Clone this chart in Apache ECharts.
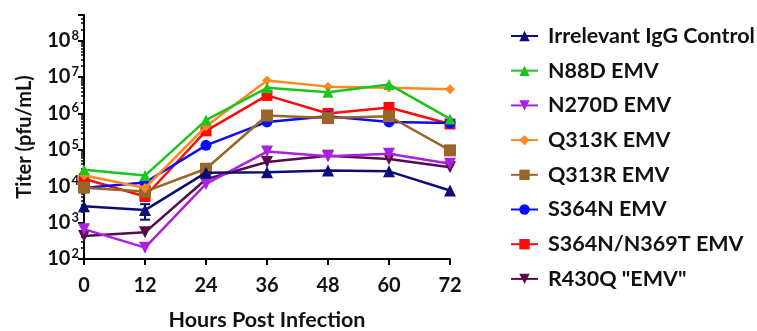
<!DOCTYPE html>
<html><head><meta charset="utf-8">
<script src="https://cdn.jsdelivr.net/npm/echarts@6/dist/echarts.min.js"></script>
<style>html,body{margin:0;padding:0;background:#fff}#c{width:757px;height:331px}</style>
</head><body><div id="c"></div>
<script>
const hours = [0, 12, 24, 36, 48, 60, 72];
const seriesNames = ['Irrelevant IgG Control','N88D EMV','N270D EMV','Q313K EMV','Q313R EMV','S364N EMV','S364N/N369T EMV','R430Q "EMV"'];
const igg    = [2800, 2200, 23500, 24000, 27000, 25500, 7600];
const n88d   = [28000, 19500, 650000, 5000000, 3800000, 6200000, 700000];
const n270d  = [660, 205, 11500, 89000, 66000, 78000, 41000];
const q313k  = [20000, 8900, 440000, 8000000, 5400000, 5000000, 4600000];
const q313r  = [9100, 7100, 30000, 870000, 740000, 830000, 96000];
const s364n  = [8900, 12600, 132000, 580000, 830000, 580000, 540000];
const s364nT = [16000, 5200, 330000, 3100000, 990000, 1450000, 510000];
const r430q  = [430, 540, 15500, 46000, 68000, 56000, 33000];
const iggErrLow  = [null, 1200, null, null, null, null, null];
const iggErrHigh = [null, 3200, null, null, null, null, null];
const yTickExps = [2,3,4,5,6,7,8];

const colors = ['#0c0c78','#1cc41c','#aa22e0','#ff8822','#99662a','#0a0aff','#ff0a0a','#560c4c'];
const symbols = ['triangle','triangle','triangle','diamond','rect','circle','rect','triangle'];
const rot = [0,0,180,0,0,0,0,180];
const sizes = [12,11,12,10,12,11,11,12];
const datasets = [igg,n88d,n270d,q313k,q313r,s364n,s364nT,r430q];
const FONT = 'Lato';

const series = datasets.map((d,i)=>({
  name: seriesNames[i], type:'line', data: hours.map((h,j)=>[h,d[j]]),
  symbol: symbols[i], symbolSize: sizes[i], symbolRotate: rot[i],
  lineStyle:{width:2.5, color:colors[i]}, itemStyle:{color:colors[i]},
  z: 10 - i, animation:false
}));
series.push({
  type:'custom', name:'err', animation:false, z: 11,
  data: hours.map((h,j)=>[h, iggErrLow[j], iggErrHigh[j]]).filter(r=>r[1]!=null),
  renderItem:function(params, api){
    const lo = api.coord([api.value(0), api.value(1)]);
    const hi = api.coord([api.value(0), api.value(2)]);
    const w = 5;
    const st = {stroke: colors[0], lineWidth: 2};
    return {type:'group', children:[
      {type:'line', shape:{x1:lo[0],y1:lo[1],x2:hi[0],y2:hi[1]}, style:st},
      {type:'line', shape:{x1:lo[0]-w,y1:lo[1],x2:lo[0]+w,y2:lo[1]}, style:st},
      {type:'line', shape:{x1:hi[0]-w,y1:hi[1],x2:hi[0]+w,y2:hi[1]}, style:st}
    ]};
  }
});

const chart = echarts.init(document.getElementById('c'));
chart.setOption({
  backgroundColor:'#fff',
  textStyle:{fontFamily:FONT},
  grid:{left:84, right:307, top:15, bottom:72, containLabel:false, outerBoundsMode:'none'},
  legend:{
    data: seriesNames, orient:'vertical', left:505, top:20,
    itemWidth:27, itemHeight:13, itemGap:12.7,
    textStyle:{fontFamily:FONT, fontWeight:'bold', fontSize:21.5, lineHeight:21.5, color:'#111', padding:[0,0,0,5]}
  },
  xAxis:{
    type:'value', min:0, max:72, interval:12,
    name:'Hours Post Infection', nameLocation:'middle', nameGap:50,
    nameTextStyle:{fontFamily:FONT, fontWeight:'bold', fontSize:21.5, color:'#111'},
    axisLine:{lineStyle:{color:'#000', width:2}},
    axisTick:{length:6, lineStyle:{color:'#000', width:2}},
    axisLabel:{fontFamily:FONT, fontWeight:'bold', fontSize:20, color:'#111', margin:17},
    splitLine:{show:false}
  },
  yAxis:{
    type:'log', logBase:10, min:100, max:5e8, interval:1,
    name:'Titer (pfu/mL)', nameLocation:'middle', nameGap:49,
    nameTextStyle:{fontFamily:FONT, fontWeight:'bold', fontSize:20, color:'#111'},
    axisLine:{show:true, lineStyle:{color:'#000', width:2}},
    axisTick:{show:true, length:6, lineStyle:{color:'#000', width:2}},
    minorTick:{show:true, splitNumber:9, length:3, lineStyle:{color:'#000', width:1.5}},
    axisLabel:{
      margin:5, showMaxLabel:false,
      formatter:function(v){ const e=Math.round(Math.log10(v)); if(yTickExps.indexOf(e)<0) return ''; return '{b|10}{s|'+e+'}'; },
      rich:{b:{fontFamily:FONT, fontWeight:'bold', fontSize:20, color:'#111'}, s:{fontFamily:FONT, fontWeight:'bold', fontSize:13, color:'#111', verticalAlign:'top', padding:[0,0,10,1]}}
    },
    splitLine:{show:false}
  },
  series: series
});
</script></body></html>
